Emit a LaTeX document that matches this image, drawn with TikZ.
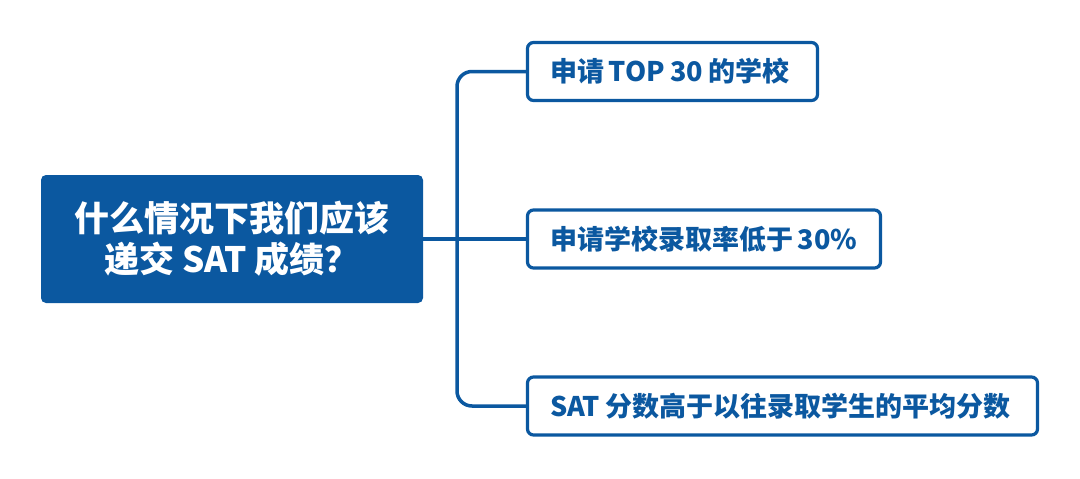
\documentclass[tikz,border=0pt]{standalone}
\usepackage{fontspec}
\setmainfont{Noto Sans CJK SC}
\usetikzlibrary{positioning}
\definecolor{satblue}{RGB}{11,88,160}
\tikzset{
  mainbox/.style={fill=satblue, rounded corners=5pt, text=white, inner sep=0pt,
    font=\fontsize{35}{41}\selectfont\bfseries, align=center,
    minimum width=382pt, minimum height=128pt},
  itembox/.style={draw=satblue, line width=3.2pt, fill=white, rounded corners=6pt,
    text=satblue, font=\fontsize{27}{30}\selectfont\bfseries,
    execute at begin node={\spaceskip=5pt\relax},
    inner xsep=22.5pt, inner ysep=0pt, minimum height=58pt}
}
\tikzset{
  branch/.style={draw=satblue, line width=3.5pt, rounded corners=15pt}
}

\begin{document}
\begin{tikzpicture}[x=1pt,y=-1pt]
\useasboundingbox (0,0) rectangle (1080,479);
\fill[white] (0,0) rectangle (1080,479);

\node[mainbox] (question) at (232,239) {什么情况下我们应该\\递交 SAT 成绩？};

\coordinate (fork) at (457,239);
\draw[branch] (527.5,71.5) -| (fork) |- (527.5,406);
\draw[branch] (question.east) -- (527.5,239);

\node[itembox, text width=245pt] (top) at (672.5,71.5) {\mbox{申请 TOP 30 的学校}};
\node[itembox, text width=308pt] (rate) at (704,239) {\mbox{申请学校录取率低于 30\%}};
\node[itembox, text width=465pt] (score) at (782.5,406) {\mbox{SAT 分数高于以往录取学生的平均分数}};
\end{tikzpicture}
\end{document}
